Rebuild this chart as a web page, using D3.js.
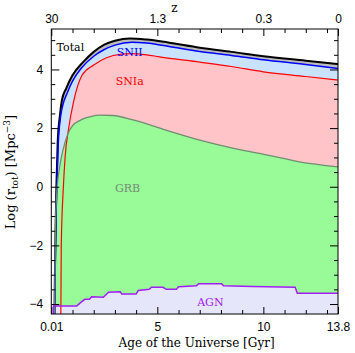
<!DOCTYPE html>
<html>
<head>
<meta charset="utf-8">
<script src="https://cdn.jsdelivr.net/npm/d3@7"></script>
<style>
  body { margin: 0; background: #fff; }
  .tick text { font-family: "Liberation Sans", sans-serif; font-size: 12px; }
  .lbl { font-family: "DejaVu Serif", serif; font-size: 11px; }
  .title { font-family: "DejaVu Serif", serif; font-size: 12px; }
</style>
</head>
<body>
<div class="chart"></div>
<script>
// age of the universe [Gyr] vs log rate
var totalRate = [[0.15,-4.34],[0.17,-3],[0.2,-1.5],[0.24,0],[0.3,1.5],[0.4,2.4],[0.5,2.95],[0.7,3.35],[1.0,3.8],
  [1.5,4.25],[2.0,4.6],[2.5,4.85],[3.0,4.98],[3.7,5.06],[4.5,5.02],[5.5,4.92],[7.0,4.74],[8.5,4.6],[10,4.45],[12,4.3],[13.52,4.18]];
var sn2Rate = [[0.16,-4.34],[0.18,-3],[0.21,-1.5],[0.26,0],[0.33,1.5],[0.43,2.35],[0.55,2.8],[0.75,3.2],[1.0,3.6],
  [1.4,4.03],[2.0,4.45],[2.5,4.68],[3.0,4.83],[3.8,4.93],[4.5,4.9],[5.5,4.79],[7.0,4.61],[8.5,4.48],[10,4.33],[12,4.17],[13.52,4.03]];
var sn1aRate = [[0.45,-4.34],[0.47,-2],[0.57,0],[0.65,1],[0.82,2],[1.05,2.9],[1.45,3.8],[2.0,4.15],[2.6,4.4],
  [3.3,4.52],[3.8,4.54],[4.5,4.5],[5.1,4.43],[7.0,4.25],[8.5,4.1],[10,3.92],[12,3.76],[13.52,3.64]];
var grbRate = [[0.16,-4.34],[0.19,-1.6],[0.23,-0.6],[0.28,0],[0.4,0.7],[0.55,1.25],[0.79,1.82],[1.0,2.08],[1.4,2.28],
  [1.85,2.39],[2.3,2.44],[2.9,2.43],[3.9,2.27],[5.4,1.93],[7.0,1.59],[8.6,1.31],[10.2,1.08],[11.7,0.85],[13.52,0.68]];
var agnRate = [[0.1,-4.34],[0.1,-4.07],[1.2,-4.07],[1.35,-3.97],[1.58,-3.84],[1.8,-3.84],[1.9,-3.75],[2.45,-3.77],
  [2.7,-3.6],[3.25,-3.58],[3.32,-3.66],[4.0,-3.66],[4.1,-3.54],[4.62,-3.5],[4.72,-3.43],[5.27,-3.43],[5.42,-3.5],
  [5.9,-3.5],[6.0,-3.41],[6.85,-3.38],[6.95,-3.31],[8.03,-3.31],[8.12,-3.38],[9.5,-3.4],[11.5,-3.43],[11.6,-3.63],[13.52,-3.63]];

var ageTicks = [0, 5, 10, 13.52];
var ageLabels = ["0.01", "5", "10", "13.8"];
var zLabels = ["30", "1.3", "0.3", "0"];
var ageMinor = [1,2,3,4,6,7,8,9,11,12,13];
var rateTicks = [-4, -2, 0, 2, 4];
var rateMinor = [-3.5,-3,-2.5,-1.5,-1,-0.5,0.5,1,1.5,2.5,3,3.5,4.5,5];

var margin = {top: 29, right: 17, bottom: 39, left: 51.3};
var fullWidth = 355, fullHeight = 353;
var width = fullWidth - margin.left - margin.right;
var height = fullHeight - margin.top - margin.bottom;

var svg = d3.select(".chart").append("svg")
    .attr("width", fullWidth)
    .attr("height", fullHeight)
    .append("g")
    .attr("transform", `translate(${margin.left},${margin.top})`);

var x = d3.scaleLinear().domain([0, 13.52]).range([0, width]);
var y = d3.scaleLinear().domain([-4.34, 5.38]).range([height, 0]);

svg.append("clipPath").attr("id", "clip")
    .append("rect").attr("width", width).attr("height", height);

var plot = svg.append("g").attr("clip-path", "url(#clip)");

var series = [
  {data: totalRate, fill: "#bdbdbd", stroke: "#000", sw: 2},
  {data: sn2Rate, fill: "#c9e2ff", stroke: "#0000ff", sw: 1.5},
  {data: sn1aRate, fill: "#ffc4c8", stroke: "#ff0000", sw: 1.2},
  {data: grbRate, fill: "#98fb98", stroke: "#6f8f6f", sw: 1.3},
  {data: agnRate, fill: "#e6e6fa", stroke: "#a020f0", sw: 1.5, linear: true}
];

series.forEach(s => {
  var area = d3.area().x(d => x(d[0])).y0(height + 5).y1(d => y(d[1]))
      .curve(s.linear ? d3.curveLinear : d3.curveMonotoneX);
  plot.append("path").attr("d", area(s.data)).style("fill", s.fill);
});
series.forEach(s => {
  var line = d3.line().x(d => x(d[0])).y(d => y(d[1]))
      .curve(s.linear ? d3.curveLinear : d3.curveMonotoneX);
  plot.append("path").attr("d", line(s.data))
      .style("fill", "none").style("stroke", s.stroke).style("stroke-width", s.sw);
});

// axes with inward ticks
function clean(g) { g.select(".domain").remove(); g.selectAll(".tick line").attr("stroke", "#000"); }

svg.append("g").attr("transform", `translate(0,${height})`)
    .call(d3.axisBottom(x).tickValues(ageTicks).tickSize(-7).tickPadding(8)
      .tickFormat((d, i) => ageLabels[i])).call(clean);
svg.append("g").attr("transform", `translate(0,${height})`)
    .call(d3.axisBottom(x).tickValues(ageMinor).tickSize(-4).tickFormat("")).call(clean);
svg.append("g")
    .call(d3.axisTop(x).tickValues(ageTicks).tickSize(-7).tickPadding(6)
      .tickFormat((d, i) => zLabels[i])).call(clean);
svg.append("g")
    .call(d3.axisTop(x).tickValues(ageMinor).tickSize(-4).tickFormat("")).call(clean);

svg.append("g")
    .call(d3.axisLeft(y).tickValues(rateTicks).tickSize(-8).tickPadding(8)).call(clean);
svg.append("g")
    .call(d3.axisLeft(y).tickValues(rateMinor).tickSize(-4).tickFormat("")).call(clean);
svg.append("g").attr("transform", `translate(${width},0)`)
    .call(d3.axisRight(y).tickValues(rateTicks).tickSize(-8).tickFormat("")).call(clean);
svg.append("g").attr("transform", `translate(${width},0)`)
    .call(d3.axisRight(y).tickValues(rateMinor).tickSize(-4).tickFormat("")).call(clean);

svg.selectAll(".tick text").attr("fill", "#000");

svg.append("rect").attr("width", width).attr("height", height)
    .style("fill", "none").style("stroke", "#000").style("stroke-width", 1);

// series labels
var labels = [
  {text: "Total", t: 0.25, v: 4.75, color: "#000", anchor: "start"},
  {text: "SNII", t: 3.7, v: 4.6, color: "#0000ff"},
  {text: "SNIa", t: 3.7, v: 3.6, color: "#ff0000"},
  {text: "GRB", t: 3.6, v: -0.05, color: "#778a77"},
  {text: "AGN", t: 7.5, v: -3.95, color: "#a020f0"}
];
svg.selectAll(".lbl").data(labels).enter().append("text")
    .attr("class", "lbl")
    .attr("x", d => x(d.t)).attr("y", d => y(d.v)).attr("dy", "0.35em")
    .attr("text-anchor", d => d.anchor || "middle")
    .style("fill", d => d.color)
    .text(d => d.text);

// titles
svg.append("text").attr("class", "title")
    .attr("x", x(5.8)).attr("y", -17).attr("text-anchor", "middle").text("z");
svg.append("text").attr("class", "title")
    .attr("x", x(6.85)).attr("y", height + 33).attr("text-anchor", "middle")
    .text("Age of the Universe [Gyr]");
var yt = svg.append("text").attr("class", "title")
    .style("font-size", "13px")
    .attr("transform", `translate(${-36},${y(0.5)}) rotate(-90)`)
    .attr("text-anchor", "middle");
yt.append("tspan").text("Log (r");
yt.append("tspan").attr("font-size", "9px").attr("baseline-shift", "-3").text("tot");
yt.append("tspan").text(") [Mpc");
yt.append("tspan").attr("font-size", "9px").attr("baseline-shift", "5").text("\u22123");
yt.append("tspan").text("]");
</script>
</body>
</html>
